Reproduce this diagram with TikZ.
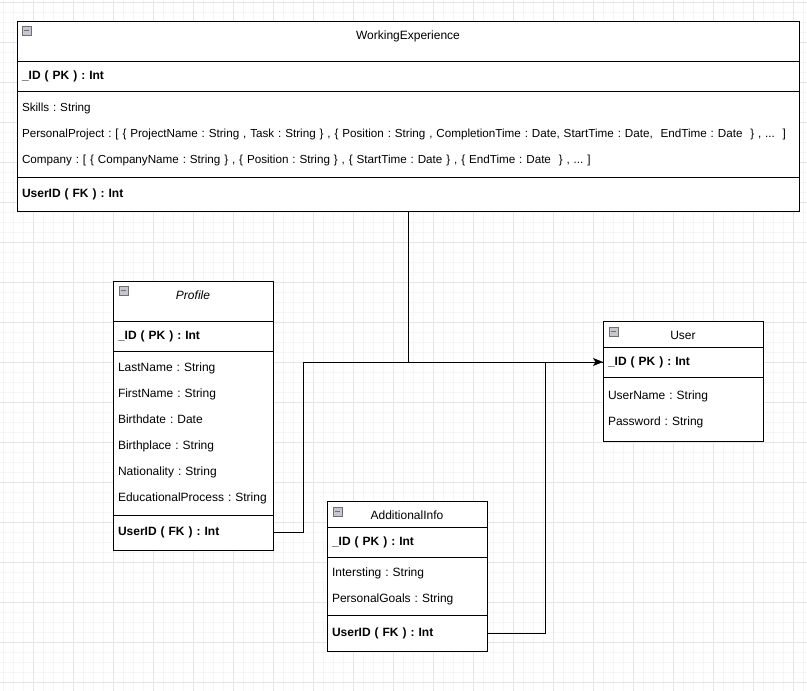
\documentclass[tikz,border=0pt]{standalone}
\usepackage{fontspec}
\setmainfont{Liberation Sans}
\usetikzlibrary{arrows.meta, positioning}
\definecolor{gridMinor}{HTML}{F5F5F5}
\definecolor{gridMajor}{HTML}{E6E6E6}
\definecolor{foldFill}{HTML}{C6C6CC}
\definecolor{foldLine}{HTML}{6E6E78}

\begin{document}
\frenchspacing
\begin{tikzpicture}[x=1pt, y=-1pt,
  tbl/.style={draw, line width=1pt, outer sep=0pt, inner xsep=5pt,
    text width=#1, align=left, font=\fontsize{12}{26}\selectfont\frenchspacing},
  hdr/.style={tbl=#1, anchor=north west, align=center, inner ysep=0pt,
    text height=18pt},
  fold/.style={draw=foldLine, fill=foldFill, line width=0.8pt,
    minimum size=9pt, inner sep=0pt, outer sep=0pt, anchor=north west,
    path picture={\draw[line width=1pt]
      ([xshift=2pt]path picture bounding box.west) --
      ([xshift=-2pt]path picture bounding box.east);}},
  link/.style={draw, line width=1pt}]

  \useasboundingbox (0,0) rectangle (807,691);
  \fill[white] (0,0) rectangle (807,691);
  \foreach \x in {3,13,...,803} \draw[gridMinor, line width=1pt] (\x,0) -- (\x,691);
  \foreach \y in {2,12,...,682} \draw[gridMinor, line width=1pt] (0,\y) -- (807,\y);
  \foreach \x in {33,73,...,793} \draw[gridMajor, line width=1pt] (\x,0) -- (\x,691);
  \foreach \y in {2,42,...,682} \draw[gridMajor, line width=1pt] (0,\y) -- (807,\y);

  \node[hdr=772, text depth=22pt, fill=white] (weHdr) at (17,21) {WorkingExperience};
  \node[tbl=772, fill=white, minimum height=30, below=0pt of weHdr] (weId) {\textbf{\_ID ( PK ) : Int}};
  \node[tbl=772, fill=white, minimum height=86, below=0pt of weId,
    font=\fontsize{11.67}{26}\selectfont\frenchspacing] (weAttr) {
    \mbox{Skills : String}\\
    \mbox{PersonalProject : [ \{ ProjectName : String , Task : String \} , \{ Position : String , CompletionTime : Date, StartTime : Date,~ EndTime : Date~ \} , ...~ ]}\\
    \mbox{Company : [ \{ CompanyName : String \} , \{ Position : String \} , \{ StartTime : Date \} , \{ EndTime : Date~ \} , ... ]}};
  \node[tbl=772, fill=white, minimum height=34, below=0pt of weAttr] (weFk) {\textbf{UserID ( FK ) : Int}};
  \node[fold] (weFold) at ([shift={(5,5)}]weHdr.north west) {};

  \node[hdr=150, text depth=22pt, fill=white] (pfHdr) at (113,281) {\textit{Profile}};
  \node[tbl=150, fill=white, minimum height=30, below=0pt of pfHdr] (pfId) {\textbf{\_ID ( PK ) : Int}};
  \node[tbl=150, fill=white, minimum height=164, below=0pt of pfId] (pfAttr) {
    LastName : String\\
    FirstName : String\\
    Birthdate : Date\\
    Birthplace : String\\
    Nationality : String\\
    EducationalProcess : String};
  \node[tbl=150, fill=white, minimum height=35, below=0pt of pfAttr] (pfFk) {\textbf{UserID ( FK ) : Int}};
  \node[fold] (pfFold) at ([shift={(6,5)}]pfHdr.north west) {};

  \node[hdr=150, text depth=8pt, fill=white] (usHdr) at (603,321) {User};
  \node[tbl=150, fill=white, minimum height=30, below=0pt of usHdr] (usId) {\textbf{\_ID ( PK ) : Int}};
  \node[tbl=150, fill=white, minimum height=64, below=0pt of usId] (usAttr) {
    UserName : String\\
    Password : String};
  \node[fold] (usFold) at ([shift={(6,6)}]usHdr.north west) {};

  \node[hdr=150, text depth=8pt, fill=white] (aiHdr) at (327,501) {AdditionalInfo};
  \node[tbl=150, fill=white, minimum height=30, below=0pt of aiHdr] (aiId) {\textbf{\_ID ( PK ) : Int}};
  \node[tbl=150, fill=white, minimum height=58, below=0pt of aiId] (aiAttr) {
    Intersting : String\\
    PersonalGoals : String};
  \node[tbl=150, fill=white, minimum height=36, below=0pt of aiAttr] (aiFk) {\textbf{UserID ( FK ) : Int}};
  \node[fold] (aiFold) at ([shift={(6,6)}]aiHdr.north west) {};

  \draw[link] (weFk.south) -- (weFk.south |- usId.west);
  \draw[link] (aiFk.east) -- ++(58,0) |- (usId.west);
  \draw[link, -{Stealth[length=10pt, width=8pt, inset=2.5pt]}] (pfFk.east) -- ++(30,0) |- (usId.west);
\end{tikzpicture}
\end{document}
